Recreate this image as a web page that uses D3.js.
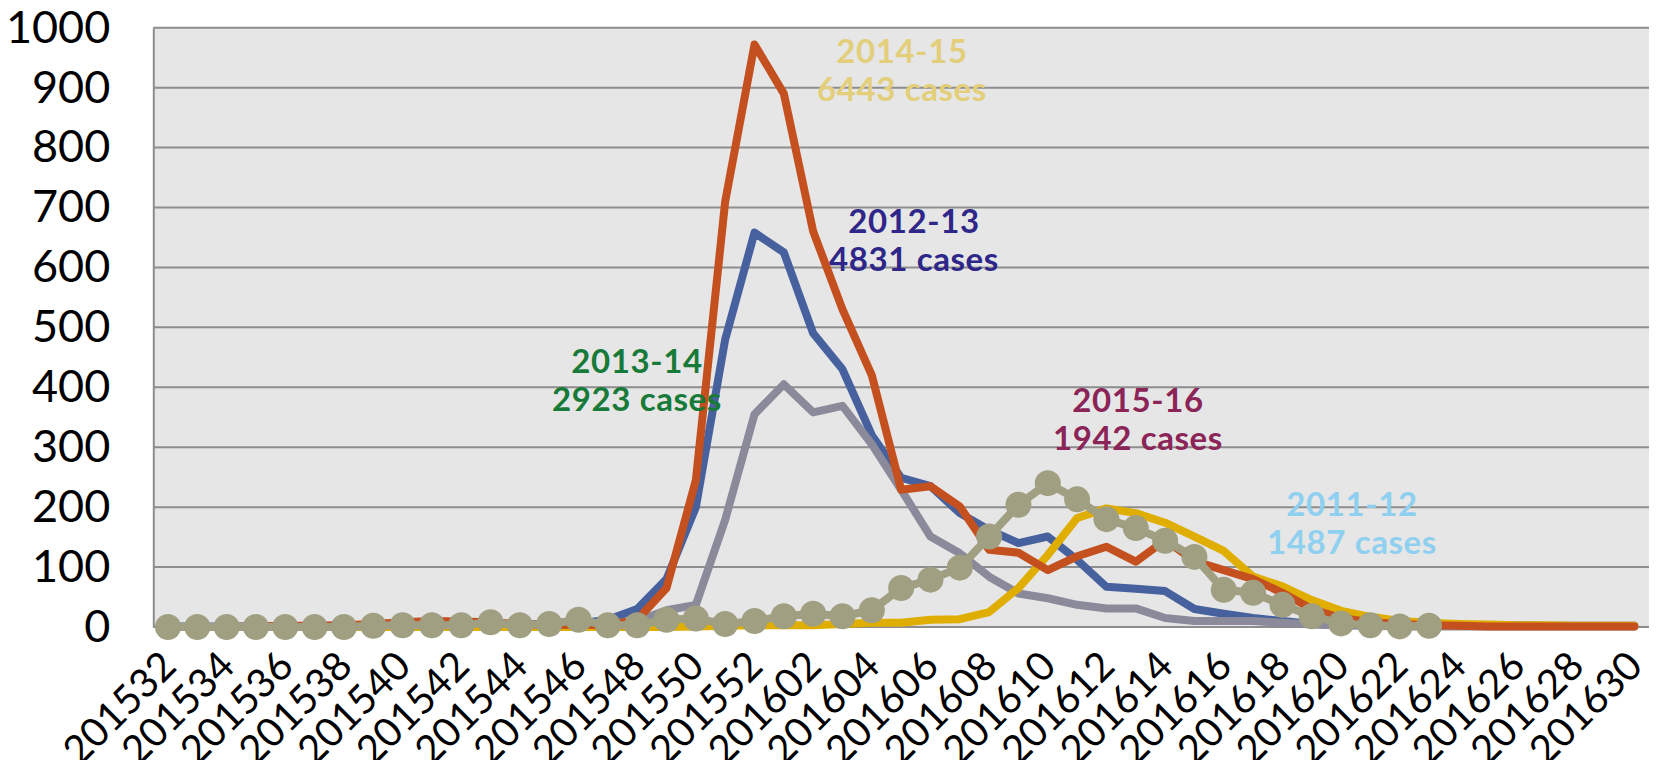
<!DOCTYPE html>
<html>
<head>
<meta charset="utf-8">
<script src="https://cdn.jsdelivr.net/npm/d3@7"></script>
<style>
  body { margin: 0; background: #fff; }
  svg { display: block; font-family: Lato, "Open Sans", sans-serif; }
</style>
</head>
<body>
<div id="chart"></div>
<script>
// weeks 201532 .. 201630 (no week 53)
var weeks = [];
for (var w = 32; w <= 52; w++) weeks.push("2015" + w);
for (var w = 1; w <= 30; w++) weeks.push("2016" + (w < 10 ? "0" + w : w));

var yTicks = [0, 100, 200, 300, 400, 500, 600, 700, 800, 900, 1000];

// values
var s2012_13 = [1,1,1,1,1,2,2,2,3,3,3,3,4,5,6,12,30,80,200,480,658,625,490,430,320,249,235,190,162,140,151,112,67,64,60,30,22,15,10,5,3,3,2,2,2,2,3,2,2,2,2];
var s2014_15 = [0,0,0,1,2,2,3,5,8,10,9,8,5,3,4,3,12,65,245,710,972,890,660,530,420,229,235,201,129,124,95,118,134,109,145,110,95,80,57,30,15,8,5,3,2,1,1,1,1,1,1];
var s2013_14 = [0,0,0,0,0,0,0,0,1,1,1,1,2,2,3,5,10,28,37,179,355,405,358,369,305,229,151,123,84,56,48,37,31,31,15,10,10,10,7,4,3,2,1,1,1,1,1,1,1,1,1];
var s2011_12 = [0,0,0,0,0,0,0,0,0,0,0,0,0,0,0,0,0,0,1,2,3,3,3,5,7,7,12,13,25,65,120,182,198,190,174,151,127,84,68,45,27,17,10,7,5,4,3,3,2,2,2];
var s2015_16 = [0,0,0,0,0,0,0,2,3,3,3,8,3,5,12,3,3,12,14,5,10,18,22,18,28,65,79,99,151,204,240,213,180,165,144,117,62,57,37,18,6,3,1,2];

// drawing order: last on top
var series = [
  {name: "2012-13", values: s2012_13, color: "#47619e"},
  {name: "2013-14", values: s2013_14, color: "#8a8a9b"},
  {name: "2011-12", values: s2011_12, color: "#dfae00"},
  {name: "2014-15", values: s2014_15, color: "#c5501f"},
  {name: "2015-16", values: s2015_16, color: "#a09f82", markers: true}
];

var notes = [
  {lines: ["2014-15", "6443 cases"], x: 902, y: 51, color: "#e3ce7a"},
  {lines: ["2012-13", "4831 cases"], x: 914, y: 221, color: "#2e2688"},
  {lines: ["2013-14", "2923 cases"], x: 637, y: 361, color: "#187a38"},
  {lines: ["2015-16", "1942 cases"], x: 1138, y: 400, color: "#8b2457"},
  {lines: ["2011-12", "1487 cases"], x: 1352, y: 504, color: "#8fd0f0"}
];

var width = 1659, height = 760;
var margin = {top: 27.7, right: 10, bottom: 133, left: 153.3};

var svg = d3.select("#chart").append("svg")
    .attr("width", width)
    .attr("height", height);

var x = d3.scaleBand()
    .domain(weeks)
    .range([margin.left, width - margin.right]);

var y = d3.scaleLinear()
    .domain([0, 1000])
    .range([height - margin.bottom, margin.top]);

var cx = function(i) { return x(weeks[i]) + x.bandwidth() / 2; };

// plot background
svg.append("rect")
    .attr("x", margin.left)
    .attr("y", margin.top)
    .attr("width", width - margin.right - margin.left)
    .attr("height", y(0) - margin.top)
    .attr("fill", "#e6e6e6");

// gridlines
svg.append("g").selectAll("line")
    .data(yTicks)
  .enter().append("line")
    .attr("x1", margin.left)
    .attr("x2", width - margin.right)
    .attr("y1", function(d) { return y(d); })
    .attr("y2", function(d) { return y(d); })
    .attr("stroke", "#8d8d8d")
    .attr("stroke-width", 2);

// y axis
var yAxis = svg.append("g")
    .attr("transform", "translate(" + margin.left + ",0)")
    .call(d3.axisLeft(y).tickValues(yTicks).tickFormat(d3.format("d")).tickSize(0).tickPadding(43));
yAxis.select(".domain").attr("stroke", "#8d8d8d").attr("stroke-width", 2);
yAxis.selectAll("text")
    .attr("font-size", 45)
    .attr("font-family", "Lato, sans-serif")
    .attr("fill", "#000");

// x axis, every second week
var xAxis = svg.append("g")
    .attr("transform", "translate(0," + y(0) + ")")
    .call(d3.axisBottom(x).tickValues(weeks.filter(function(d, i) { return i % 2 == 0; })).tickSize(0));
xAxis.select(".domain").remove();
xAxis.selectAll("text")
    .attr("font-size", 40)
    .attr("font-family", "Lato, sans-serif")
    .attr("fill", "#000")
    .attr("text-anchor", "end")
    .attr("y", 0)
    .attr("dy", "0.72em")
    .attr("transform", "translate(-10,21) rotate(-45)");

// lines
var line = d3.line()
    .x(function(d, i) { return cx(i); })
    .y(function(d) { return y(d); });

series.forEach(function(s) {
  svg.append("path")
      .datum(s.values)
      .attr("d", line)
      .attr("fill", "none")
      .attr("stroke", s.color)
      .attr("stroke-width", 8)
      .attr("stroke-linejoin", "round")
      .attr("stroke-linecap", "round");
  if (s.markers) {
    svg.append("g").selectAll("circle")
        .data(s.values)
      .enter().append("circle")
        .attr("cx", function(d, i) { return cx(i); })
        .attr("cy", function(d) { return y(d); })
        .attr("r", 13)
        .attr("fill", s.color);
  }
});

// annotations
notes.forEach(function(n) {
  var t = svg.append("text")
      .attr("x", n.x)
      .attr("y", n.y)
      .attr("text-anchor", "middle")
      .attr("font-size", 33)
      .attr("font-weight", "bold")
      .attr("letter-spacing", 0.6)
      .attr("fill", n.color);
  n.lines.forEach(function(l, k) {
    t.append("tspan")
        .attr("x", n.x)
        .attr("dy", k == 0 ? "0.36em" : 38)
        .text(l);
  });
});
</script>
</body>
</html>
